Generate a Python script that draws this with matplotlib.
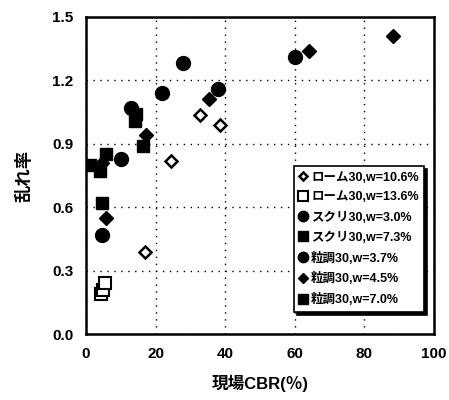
import matplotlib.pyplot as plt
import numpy as np

plt.rcParams['font.family'] = ['Liberation Sans', 'Noto Sans CJK JP', 'DejaVu Sans']
plt.rcParams['font.weight'] = 'bold'

# ローム30, w=10.6%
loam106_x = [17.0, 24.5, 32.8, 38.5]
loam106_y = [0.39, 0.82, 1.035, 0.99]
# ローム30, w=13.6%
loam136_x = [4.2, 4.8, 5.5]
loam136_y = [0.19, 0.21, 0.24]
# スクリ30, w=3.0%
sc30_x = [4.7, 10.0, 12.8, 21.9, 27.8]
sc30_y = [0.47, 0.83, 1.07, 1.14, 1.28]
# スクリ30, w=7.3%
sc73_x = [1.1, 4.0, 5.7, 4.5]
sc73_y = [0.80, 0.77, 0.85, 0.62]
# 粒調30, w=3.7%
gr37_x = [38.0, 60.2]
gr37_y = [1.16, 1.31]
# 粒調30, w=4.5%
gr45_x = [5.7, 17.3, 35.4, 64.0, 88.3, 4.5]
gr45_y = [0.55, 0.94, 1.11, 1.34, 1.41, 0.81]
# 粒調30, w=7.0%
gr70_x = [14.0, 14.5, 16.4]
gr70_y = [1.01, 1.04, 0.89]

fig = plt.figure(figsize=(4.49, 4.0), dpi=100)
ax = fig.add_axes([0.1915, 0.165, 0.775, 0.7925])

ax.plot(loam106_x, loam106_y, 'D', ms=6, mfc='white', mec='black', mew=1.8,
        label='ローム30,w=10.6%', ls='none')
ax.plot(loam136_x, loam136_y, 's', ms=9, mfc='white', mec='black', mew=1.5,
        label='ローム30,w=13.6%', ls='none')
ax.plot(sc30_x, sc30_y, 'o', ms=10, color='black', label='スクリ30,w=3.0%', ls='none')
ax.plot(sc73_x, sc73_y, 's', ms=9, color='black', label='スクリ30,w=7.3%', ls='none')
ax.plot(gr37_x, gr37_y, 'o', ms=10, color='black', label='粒調30,w=3.7%', ls='none')
ax.plot(gr45_x, gr45_y, 'D', ms=7, color='black', label='粒調30,w=4.5%', ls='none')
ax.plot(gr70_x, gr70_y, 's', ms=9, color='black', label='粒調30,w=7.0%', ls='none')

ax.set_xlim(0, 100)
ax.set_ylim(0, 1.5)
ax.set_xticks(np.arange(0, 101, 20))
ax.set_yticks(np.arange(0, 1.51, 0.3))
ax.set_yticklabels(['0.0', '0.3', '0.6', '0.9', '1.2', '1.5'])
ax.tick_params(length=0, labelsize=11, pad=9)
for lab in ax.get_xticklabels() + ax.get_yticklabels():
    lab.set_fontweight('bold')
ax.grid(True, color='black', ls=(0, (1, 4)), lw=1)
for sp in ax.spines.values():
    sp.set_linewidth(1.8)

ax.set_xlabel('現場CBR(％)', fontsize=12, fontweight='bold', labelpad=10)
ax.set_ylabel('乱れ率', fontsize=12.5, fontweight='bold', labelpad=14)

leg = ax.legend(loc='lower right', bbox_to_anchor=(0.99, 0.05), fontsize=9,
                frameon=True, fancybox=False, edgecolor='black', markerscale=0.75,
                handlelength=0.6, handletextpad=0.3, labelspacing=0.62,
                borderpad=0.45, shadow={'color': 'black', 'alpha': 1})
leg.get_frame().set_linewidth(1.2)
for t in leg.get_texts():
    t.set_fontweight('bold')

fig.savefig('out.png', dpi=100)
